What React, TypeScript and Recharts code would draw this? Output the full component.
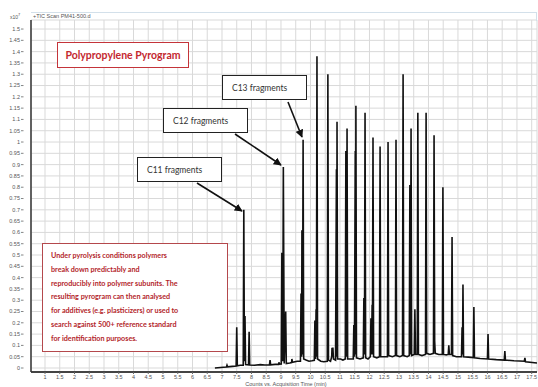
import React from "react";
import { LineChart, Line, XAxis, YAxis, CartesianGrid } from "recharts";

// TIC trace, counts in units of x10^7
const traceTime = [
  6.76, 6.95, 7.15, 7.17, 7.19, 7.35, 7.48, 7.5, 7.52, 7.62,
  7.72, 7.74, 7.76, 7.78, 7.8, 7.9, 7.92, 7.94, 8.1, 8.3,
  8.45, 8.61, 8.63, 8.65, 8.8, 8.92, 8.93, 8.95, 9.01, 9.03,
  9.06, 9.08, 9.11, 9.16, 9.18, 9.3, 9.36, 9.37, 9.39, 9.55,
  9.66, 9.68, 9.7, 9.71, 9.73, 9.75, 9.77, 9.85, 9.95, 10.05,
  10.13, 10.15, 10.17, 10.19, 10.2, 10.22, 10.24, 10.35, 10.45, 10.57,
  10.59, 10.61, 10.68, 10.72, 10.73, 10.745, 10.76, 10.78, 10.85, 10.88,
  10.89, 10.9, 10.92, 11.02, 11.1, 11.18, 11.2, 11.22, 11.24, 11.26,
  11.35, 11.45, 11.47, 11.49, 11.52, 11.53, 11.54, 11.56, 11.68, 11.79,
  11.81, 11.83, 11.85, 11.87, 11.95, 12.03, 12.05, 12.07, 12.09, 12.1,
  12.12, 12.14, 12.25, 12.34, 12.36, 12.38, 12.5, 12.61, 12.63, 12.65,
  12.78, 12.88, 12.9, 12.92, 13.03, 13.12, 13.14, 13.16, 13.28, 13.35,
  13.37, 13.39, 13.41, 13.43, 13.52, 13.54, 13.56, 13.62, 13.64, 13.66,
  13.78, 13.9, 13.92, 13.94, 14.05, 14.17, 14.19, 14.21, 14.23, 14.35,
  14.47, 14.49, 14.51, 14.6, 14.67, 14.69, 14.71, 14.78, 14.8, 14.82,
  14.95, 15.12, 15.14, 15.155, 15.17, 15.19, 15.35, 15.52, 15.54, 15.56,
  15.75, 16.0, 16.02, 16.04, 16.3, 16.57, 16.59, 16.61, 16.9, 17.25,
  17.27, 17.29, 17.68,
];
const traceCounts = [
  0.0, 0.002, 0.004, 0.012, 0.005, 0.007, 0.009, 0.18, 0.01, 0.012,
  0.012, 0.7, 0.03, 0.23, 0.015, 0.014, 0.16, 0.013, 0.012, 0.015,
  0.013, 0.014, 0.035, 0.014, 0.016, 0.016, 0.025, 0.017, 0.018, 0.51,
  0.03, 0.89, 0.02, 0.25, 0.02, 0.022, 0.024, 0.04, 0.025, 0.03,
  0.03, 0.33, 0.05, 0.61, 0.06, 1.01, 0.04, 0.035, 0.03, 0.032,
  0.034, 0.21, 0.04, 0.26, 0.05, 1.38, 0.04, 0.03, 0.028, 0.03,
  1.3, 0.035, 0.03, 0.05, 0.09, 0.06, 0.09, 0.04, 0.035, 0.88,
  0.05, 1.09, 0.04, 0.04, 0.035, 0.04, 0.96, 0.05, 1.06, 0.04,
  0.04, 0.04, 0.19, 0.05, 0.96, 0.06, 1.16, 0.045, 0.04, 0.045,
  0.31, 0.06, 1.13, 0.045, 0.04, 0.05, 0.22, 0.06, 0.28, 0.06,
  1.02, 0.05, 0.045, 0.05, 0.98, 0.05, 0.05, 0.05, 1.0, 0.055,
  0.05, 0.055, 1.01, 0.055, 0.05, 0.055, 1.3, 0.055, 0.05, 0.055,
  0.81, 0.06, 1.06, 0.055, 0.06, 0.26, 0.06, 0.06, 1.13, 0.06,
  0.055, 0.06, 1.13, 0.065, 0.06, 0.065, 1.03, 0.12, 0.065, 0.06,
  0.06, 0.8, 0.06, 0.058, 0.06, 0.1, 0.06, 0.06, 0.58, 0.055,
  0.05, 0.05, 0.18, 0.06, 0.37, 0.05, 0.048, 0.046, 0.27, 0.045,
  0.042, 0.04, 0.15, 0.04, 0.037, 0.035, 0.075, 0.035, 0.032, 0.03,
  0.045, 0.028, 0.022,
];

const xTicks = [
  1, 1.5, 2, 2.5, 3, 3.5, 4, 4.5, 5, 5.5, 6, 6.5, 7, 7.5, 8, 8.5, 9, 9.5,
  10, 10.5, 11, 11.5, 12, 12.5, 13, 13.5, 14, 14.5, 15, 15.5, 16, 16.5, 17, 17.5,
];
const yTicks = [
  0, 0.05, 0.1, 0.15, 0.2, 0.25, 0.3, 0.35, 0.4, 0.45, 0.5, 0.55, 0.6, 0.65, 0.7, 0.75,
  0.8, 0.85, 0.9, 0.95, 1, 1.05, 1.1, 1.15, 1.2, 1.25, 1.3, 1.35, 1.4, 1.45, 1.5,
];

const titleText = "Polypropylene Pyrogram";
const calloutLabels = ["C11 fragments", "C12 fragments", "C13 fragments"];
const noteLines = [
  "Under pyrolysis conditions polymers",
  "break down predictably and",
  "reproducibly into polymer subunits. The",
  "resulting pyrogram can then analysed",
  "for additives (e.g. plasticizers) or used to",
  "search against 500+ reference standard",
  "for identification purposes.",
];

// box + arrow layout for the callouts (pixels)
const calloutBoxes = [
  { left: 137, top: 157, ax1: 197, ay1: 183, ax2: 242, ay2: 211 },
  { left: 163, top: 108, ax1: 235, ay1: 134, ax2: 281, ay2: 165 },
  { left: 222, top: 75, ax1: 288, ay1: 102, ax2: 302, ay2: 137 },
];

const W = 538;
const H = 387;
const axisFont = "'Liberation Sans', Arial, sans-serif";
const boxFont = "Lato, 'Open Sans', sans-serif";

const fmt = (v: number) => String(Number(v.toFixed(2)));

function YTick(props: any) {
  const { x, y, payload } = props;
  return (
    <g>
      <text x={x - 11} y={y} dy="0.35em" textAnchor="end" fontSize={5.5} fill="#555" fontFamily={axisFont}>
        {fmt(payload.value)}
      </text>
      <line x1={x - 10} x2={x - 7.5} y1={y} y2={y} stroke="#666" strokeWidth={0.8} />
    </g>
  );
}

export default function App() {
  const data = traceTime.map((t, i) => ({ t, c: traceCounts[i] }));

  return (
    <div style={{ position: "absolute", left: 0, top: 0, width: W, height: H, background: "#fff", overflow: "hidden" }}>
      <LineChart width={W} height={H} data={data} margin={{ top: 20, right: 1, bottom: 0, left: 0 }}>
        <CartesianGrid stroke="#d9d9d9" strokeWidth={1} />
        <XAxis
          dataKey="t"
          type="number"
          domain={[0.525, 17.68]}
          allowDataOverflow
          ticks={xTicks}
          interval={0}
          height={15}
          tickSize={2}
          tickMargin={1}
          tick={{ fontSize: 5.5, fill: "#555", fontFamily: axisFont }}
          tickLine={{ stroke: "#666" }}
          axisLine={{ stroke: "#444", strokeWidth: 2 }}
        />
        <YAxis
          type="number"
          domain={[-0.0177, 1.54]}
          allowDataOverflow
          ticks={yTicks}
          interval={0}
          width={31}
          tickSize={0}
          tickMargin={0}
          tickLine={false}
          tick={<YTick />}
          axisLine={{ stroke: "#333", strokeWidth: 1.5 }}
        />
        <Line
          dataKey="c"
          type="linear"
          stroke="#111"
          strokeWidth={1.6}
          dot={false}
          isAnimationActive={false}
        />
      </LineChart>

      {/* header strip above plot */}
      <div style={{ position: "absolute", left: 31, top: 12, width: 505, height: 8, borderTop: "1px solid #d3e0ea", borderRight: "1px solid #d3e0ea" }} />
      <div style={{ position: "absolute", left: 10, top: 12, fontSize: 5, color: "#555", fontFamily: axisFont, whiteSpace: "nowrap" }}>
        x10<sup style={{ fontSize: 4 }}>7</sup>
      </div>
      <div style={{ position: "absolute", left: 33, top: 13, fontSize: 5.5, color: "#555", fontFamily: axisFont, whiteSpace: "nowrap" }}>
        +TIC Scan PM41-500.d
      </div>
      <div style={{ position: "absolute", left: 186, width: 200, top: 381, textAlign: "center", fontSize: 5.5, color: "#555", fontFamily: axisFont, whiteSpace: "nowrap" }}>
        Counts vs. Acquisition Time (min)
      </div>

      {/* title box */}
      <div
        style={{
          position: "absolute", left: 57, top: 42, width: 130, height: 24,
          border: "1.5px solid #c4343a", background: "#fff",
          display: "flex", alignItems: "center", justifyContent: "center",
          fontFamily: boxFont, fontWeight: 700, fontSize: 10.5, color: "#c4282f", whiteSpace: "nowrap",
        }}
      >
        {titleText}
      </div>

      {/* callouts */}
      {calloutBoxes.map((b, i) => (
        <div
          key={i}
          style={{
            position: "absolute", left: b.left, top: b.top, width: 85, height: 25,
            border: "1.2px solid #222", background: "#fff",
            display: "flex", alignItems: "center", paddingLeft: 9, boxSizing: "border-box",
            fontFamily: boxFont, fontSize: 8.5, color: "#333", whiteSpace: "nowrap",
          }}
        >
          {calloutLabels[i]}
        </div>
      ))}
      <svg width={W} height={H} style={{ position: "absolute", left: 0, top: 0, pointerEvents: "none" }}>
        <defs>
          <marker id="arr" viewBox="0 0 10 10" refX="9" refY="5" markerWidth="5" markerHeight="5" orient="auto">
            <path d="M0,0 L10,5 L0,10 z" fill="#111" />
          </marker>
        </defs>
        {calloutBoxes.map((b, i) => (
          <line key={i} x1={b.ax1} y1={b.ay1} x2={b.ax2} y2={b.ay2} stroke="#111" strokeWidth={1.6} markerEnd="url(#arr)" />
        ))}
      </svg>

      {/* description box */}
      <div
        style={{
          position: "absolute", left: 42, top: 243, width: 186, height: 109,
          border: "1px solid #b4484c", background: "#fff", boxSizing: "border-box",
          padding: "5px 0 0 8px",
          fontFamily: boxFont, fontWeight: 700, fontSize: 7.2, lineHeight: "13.8px", color: "#b3262b",
        }}
      >
        {noteLines.map((l, i) => (
          <div key={i} style={{ whiteSpace: "nowrap" }}>{l}</div>
        ))}
      </div>
    </div>
  );
}
